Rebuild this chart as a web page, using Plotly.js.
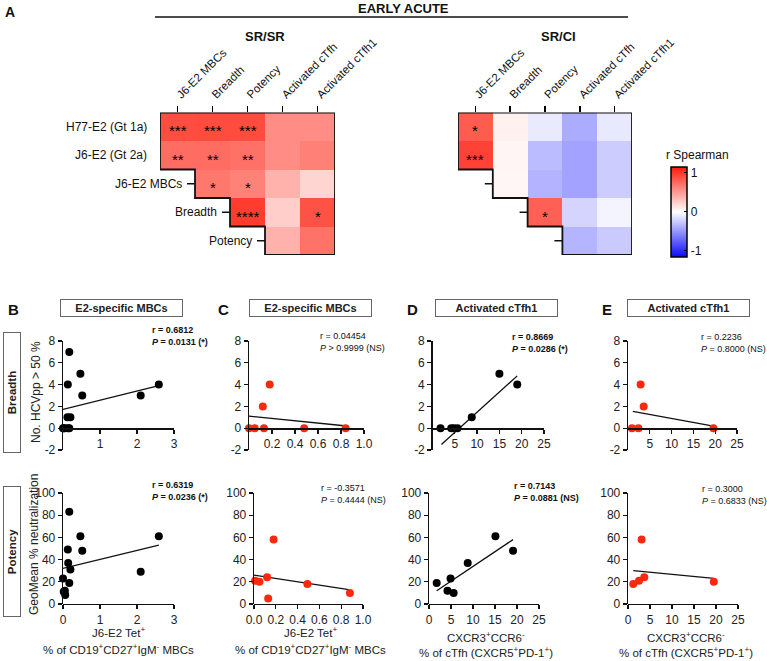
<!DOCTYPE html>
<html>
<head>
<meta charset="utf-8">
<script src="https://cdn.plot.ly/plotly-3.0.1.min.js"></script>
<style>
    body { margin: 0; background: #fff; }
    #graph { width: 767px; height: 661px; }
</style>
</head>
<body>
<div id="graph"></div>
<script>
const W = 767, H = 661;
const FONT = 'Arial, "Liberation Sans", sans-serif';
const RED = '#f8290e';

// ---- panel A: correlation heatmaps ----
const colLabels = ['J6-E2 MBCs', 'Breadth', 'Potency', 'Activated cTfh', 'Activated cTfh1'];
const rowLabels = ['H77-E2 (Gt 1a)', 'J6-E2 (Gt 2a)', 'J6-E2 MBCs', 'Breadth', 'Potency'];

const rSrSr = [
    [0.89, 0.90, 0.90, 0.57, 0.57],
    [0.74, 0.74, 0.72, 0.57, 0.64],
    [null, 0.68, 0.63, 0.39, 0.21],
    [null, null, 0.98, 0.25, 0.87],
    [null, null, null, 0.39, 0.71]
];
const starsSrSr = [
    ['***', '***', '***', '', ''],
    ['**', '**', '**', '', ''],
    ['', '*', '*', '', ''],
    ['', '', '****', '', '*'],
    ['', '', '', '', '']
];

const rSrCi = [
    [0.82, 0.07, -0.10, -0.39, -0.11],
    [0.95, 0.05, -0.32, -0.43, -0.24],
    [null, 0.045, -0.357, -0.43, -0.24],
    [null, null, 0.80, -0.20, -0.05],
    [null, null, null, -0.35, -0.25]
];
const starsSrCi = [
    ['*', '', '', '', ''],
    ['***', '', '', '', ''],
    ['', '', '', '', ''],
    ['', '', '*', '', ''],
    ['', '', '', '', '']
];

// ---- panels B-E: scatter data (x, y) and fitted lines ----
const srMbcBreadthX = [0.0, 0.02, 0.05, 0.14, 0.17, 0.17, 0.13, 0.47, 0.52, 0.12, 0.20, 2.10, 2.59];
const srMbcBreadthY = [0, 0, 0, 0, 0, 7, 4, 5, 3, 1, 1, 3, 4];
const srMbcBreadthFitX = [0, 2.59];
const srMbcBreadthFitY = [1.72, 3.9];

const srMbcPotencyX = [0.17, 0.47, 0.52, 2.59, 2.10, 0.13, 0.14, 0.20, 0.0, 0.17, 0.02, 0.05, 0.06];
const srMbcPotencyY = [83, 61, 48, 61, 29, 49, 37, 31, 23, 19, 11, 12, 8];
const srMbcPotencyFitX = [0, 2.59];
const srMbcPotencyFitY = [32, 53];

const ciMbcBreadthX = [0.0, 0.05, 0.13, 0.48, 0.84, 0.12, 0.18];
const ciMbcBreadthY = [0, 0, 0, 0, 0, 2, 4];
const ciMbcBreadthFitX = [0, 0.85];
const ciMbcBreadthFitY = [1.1, 0.2];

const ciMbcPotencyX = [0.01, 0.05, 0.12, 0.13, 0.18, 0.49, 0.88];
const ciMbcPotencyY = [21, 20, 24, 5, 58, 18, 10];
const ciMbcPotencyFitX = [0, 0.87];
const ciMbcPotencyFitY = [26, 13];

const srTfhBreadthX = [1.8, 4.2, 4.8, 5.6, 8.8, 15.0, 19.0];
const srTfhBreadthY = [0, 0, 0, 0, 1, 5, 4];
const srTfhBreadthFitX = [2.0, 19.0];
const srTfhBreadthFitY = [-1.5, 4.8];

const srTfhPotencyX = [1.75, 4.2, 4.9, 5.6, 8.8, 15.1, 19.1];
const srTfhPotencyY = [19, 12, 23, 10, 37, 61, 48];
const srTfhPotencyFitX = [1.75, 19.1];
const srTfhPotencyFitY = [12, 58];

const ciTfhBreadthX = [0.9, 2.4, 2.9, 3.6, 19.6];
const ciTfhBreadthY = [0, 0, 4, 2, 0];
const ciTfhBreadthFitX = [1.1, 19.6];
const ciTfhBreadthFitY = [1.55, 0.2];

const ciTfhPotencyX = [1.2, 2.5, 3.1, 3.7, 19.5];
const ciTfhPotencyY = [18, 21, 58, 24, 20];
const ciTfhPotencyFitX = [1.2, 19.5];
const ciTfhPotencyFitY = [30, 23];

// tick values
const breadthTicks = [-2, 0, 2, 4, 6, 8];
const potencyTicks = [0, 20, 40, 60, 80, 100];
const mbcTopTicks = [1, 2, 3];
const mbcBottomTicks = [0, 1, 2, 3];
const ciMbcTopTicks = [0.2, 0.4, 0.6, 0.8, 1.0];
const ciMbcBottomTicks = [0, 0.2, 0.4, 0.6, 0.8, 1.0];
const tfhTopTicks = [5, 10, 15, 20, 25];
const tfhBottomTicks = [0, 5, 10, 15, 20, 25];

const stats = [
    ['r = 0.6812', '<i>P</i> = 0.0131 (*)', true],
    ['r = 0.04454', '<i>P</i> > 0.9999 (NS)', false],
    ['r = 0.8669', '<i>P</i> = 0.0286 (*)', true],
    ['r = 0.2236', '<i>P</i> = 0.8000 (NS)', false],
    ['r = 0.6319', '<i>P</i> = 0.0236 (*)', true],
    ['r = -0.3571', '<i>P</i> = 0.4444 (NS)', false],
    ['r = 0.7143', '<i>P</i> = 0.0881 (NS)', true],
    ['r = 0.3000', '<i>P</i> = 0.6833 (NS)', false]
];

function px(x) { return x / W; }
function py(y) { return 1 - y / H; }

const traces = [];
const layout = {
    width: W,
    height: H,
    margin: {l: 0, r: 0, t: 0, b: 0},
    paper_bgcolor: '#fff',
    plot_bgcolor: 'rgba(0,0,0,0)',
    showlegend: false,
    font: {family: FONT, color: '#111', size: 12},
    annotations: [],
    shapes: [],
    coloraxis: {
        cmin: -1.15,
        cmax: 1.15,
        colorscale: [[0, '#0a0aff'], [0.5, '#ffffff'], [1, '#ff1a0a']],
        colorbar: {
            x: px(671), xanchor: 'left',
            y: py(211.5), yanchor: 'middle',
            len: 90, lenmode: 'pixels',
            thickness: 16, thicknessmode: 'pixels',
            outlinewidth: 1.5, outlinecolor: '#000',
            xpad: 0, ypad: 0,
            tickvals: [-1, 0, 1],
            ticktext: ['-1', '0', '1'],
            ticks: 'inside', ticklen: 3, tickcolor: '#000',
            tickfont: {size: 12, family: FONT, color: '#111'}
        }
    }
};

function addText(text, x, y, opts) {
    layout.annotations.push(Object.assign({
        text: text, x: x, y: y, xref: 'paper', yref: 'paper',
        xanchor: 'center', yanchor: 'middle',
        showarrow: false, font: {size: 12, family: FONT, color: '#111'}
    }, opts || {}));
}

function drawHeatmap(n, z, stars, domainX, withLabels) {
    const xa = n === 1 ? 'x' : 'x' + n;
    const ya = n === 1 ? 'y' : 'y' + n;
    const idx = [0, 1, 2, 3, 4];
    traces.push({
        type: 'heatmap', z: z, x: idx, y: idx,
        xaxis: xa, yaxis: ya, coloraxis: 'coloraxis',
        hoverongaps: false
    });
    const axName = n === 1 ? '' : String(n);
    layout['xaxis' + axName] = {
        domain: domainX, anchor: ya, side: 'top', range: [-0.5, 4.5],
        tickvals: idx, ticktext: colLabels, tickangle: -45,
        ticks: 'outside', ticklen: 6, tickwidth: 1.5, tickcolor: '#000',
        showline: false, showgrid: false, zeroline: false,
        tickfont: {size: 11.5, family: FONT, color: '#111'}
    };
    layout['yaxis' + axName] = {
        domain: [py(255), py(112.5)], anchor: xa, range: [4.5, -0.5],
        showticklabels: false, ticks: '', showline: false, showgrid: false, zeroline: false
    };

    // staircase outline and row ticks from the empty cells
    const firstCol = z.map(row => row.findIndex(v => v !== null));
    let path = 'M -0.5 -0.5 L 4.5 -0.5 L 4.5 4.5';
    for (let r = z.length - 1; r >= 0; r--) {
        path += ' L ' + (firstCol[r] - 0.5) + ' ' + (r + 0.5);
        path += ' L ' + (firstCol[r] - 0.5) + ' ' + (r - 0.5);
    }
    path += ' Z';
    layout.shapes.push({type: 'path', path: path, xref: xa, yref: ya, line: {color: '#111', width: 1.8}});

    firstCol.forEach((c, r) => {
        layout.shapes.push({
            type: 'line', xref: xa, yref: ya, xsizemode: 'pixel', xanchor: c - 0.5,
            x0: -8, x1: 0, y0: r, y1: r, line: {color: '#111', width: 1.5}
        });
        if (withLabels) {
            layout.annotations.push({
                text: rowLabels[r], x: c - 0.5, y: r, xref: xa, yref: ya,
                xanchor: 'right', yanchor: 'middle', xshift: -11, showarrow: false,
                font: {size: 12, family: FONT, color: '#111'}
            });
        }
    });

    stars.forEach((row, r) => row.forEach((s, c) => {
        if (s) {
            layout.annotations.push({
                text: s, x: c, y: r, xref: xa, yref: ya, showarrow: false, yshift: -4,
                xanchor: 'center', yanchor: 'middle',
                font: {size: 15, family: FONT, color: '#000'}
            });
        }
    }));
}

drawHeatmap(1, rSrSr, starsSrSr, [px(160), px(335)], true);
drawHeatmap(2, rSrCi, starsSrCi, [px(458), px(632)], false);

// scatter panels
const topY = [py(450), py(341)];
const bottomY = [py(604), py(493)];
const panels = [
    {x: srMbcBreadthX, y: srMbcBreadthY, fx: srMbcBreadthFitX, fy: srMbcBreadthFitY, dom: [63, 174], xr: [0, 3], xt: mbcTopTicks, xtt: null, color: '#000', top: true},
    {x: ciMbcBreadthX, y: ciMbcBreadthY, fx: ciMbcBreadthFitX, fy: ciMbcBreadthFitY, dom: [249, 364], xr: [0, 1], xt: ciMbcTopTicks, xtt: ['0.2', '0.4', '0.6', '0.8', '1.0'], color: RED, top: true},
    {x: srTfhBreadthX, y: srTfhBreadthY, fx: srTfhBreadthFitX, fy: srTfhBreadthFitY, dom: [432.5, 544], xr: [0, 25], xt: tfhTopTicks, xtt: null, color: '#000', top: true},
    {x: ciTfhBreadthX, y: ciTfhBreadthY, fx: ciTfhBreadthFitX, fy: ciTfhBreadthFitY, dom: [628, 737], xr: [0, 25], xt: tfhTopTicks, xtt: null, color: RED, top: true},
    {x: srMbcPotencyX, y: srMbcPotencyY, fx: srMbcPotencyFitX, fy: srMbcPotencyFitY, dom: [63, 174], xr: [0, 3], xt: mbcBottomTicks, xtt: null, color: '#000', top: false},
    {x: ciMbcPotencyX, y: ciMbcPotencyY, fx: ciMbcPotencyFitX, fy: ciMbcPotencyFitY, dom: [254, 363], xr: [0, 1], xt: ciMbcBottomTicks, xtt: ['0.0', '0.2', '0.4', '0.6', '0.8', '1.0'], color: RED, top: false},
    {x: srTfhPotencyX, y: srTfhPotencyY, fx: srTfhPotencyFitX, fy: srTfhPotencyFitY, dom: [429, 539], xr: [0, 25], xt: tfhBottomTicks, xtt: null, color: '#000', top: false},
    {x: ciTfhPotencyX, y: ciTfhPotencyY, fx: ciTfhPotencyFitX, fy: ciTfhPotencyFitY, dom: [628, 738], xr: [0, 25], xt: tfhBottomTicks, xtt: null, color: RED, top: false}
];

const axisStyle = {
    showline: true, linecolor: '#111', linewidth: 1.3,
    ticks: 'outside', ticklen: 4, tickwidth: 1.3, tickcolor: '#111',
    showgrid: false, zeroline: false,
    tickfont: {size: 12, family: FONT, color: '#222'}
};

panels.forEach((p, i) => {
    const n = i + 3;
    const yDom = p.top ? topY : bottomY;
    const yRange = p.top ? [-2, 8] : [0, 100];
    const yTicks = p.top ? breadthTicks : potencyTicks;
    const pos = yDom[0] + (0 - yRange[0]) / (yRange[1] - yRange[0]) * (yDom[1] - yDom[0]);
    layout['xaxis' + n] = Object.assign({}, axisStyle, {
        domain: [px(p.dom[0]), px(p.dom[1])], range: p.xr,
        anchor: 'free', position: pos,
        tickvals: p.xt, ticktext: p.xtt || p.xt.map(String)
    });
    layout['yaxis' + n] = Object.assign({}, axisStyle, {
        domain: yDom, range: yRange, anchor: 'x' + n,
        tickvals: yTicks, ticktext: yTicks.map(String)
    });
    traces.push({
        type: 'scatter', mode: 'lines', x: p.fx, y: p.fy,
        xaxis: 'x' + n, yaxis: 'y' + n,
        line: {color: '#111', width: 1.3}, cliponaxis: false
    });
    traces.push({
        type: 'scatter', mode: 'markers', x: p.x, y: p.y,
        xaxis: 'x' + n, yaxis: 'y' + n,
        marker: {color: p.color, size: 8}, cliponaxis: false
    });
});

// stat labels
const statPos = [[150, 329], [318, 335], [510, 336], [699, 336], [150, 484], [319, 487], [512, 485], [700, 488]];
stats.forEach((s, i) => {
    const b = s[2];
    const t = b ? '<b>' + s[0] + '</b><br><b>' + s[1] + '</b>' : s[0] + '<br>' + s[1];
    addText(t, px(statPos[i][0]), py(statPos[i][1] - 6), {
        xanchor: 'left', yanchor: 'top', align: 'left',
        font: {size: 9, family: FONT, color: '#111'}
    });
});

// headers
addText('<b>A</b>', px(3), py(12), {xanchor: 'left', font: {size: 14, family: FONT, color: '#111'}});
addText('<b>EARLY ACUTE</b>', px(403), py(8), {font: {size: 13, family: FONT, color: '#111'}});
layout.shapes.push({type: 'line', xref: 'paper', yref: 'paper', x0: px(155), x1: px(628), y0: py(17), y1: py(17), line: {color: '#111', width: 1.5}});
addText('<b>SR/SR</b>', px(265), py(37), {font: {size: 13, family: FONT, color: '#111'}});
addText('<b>SR/CI</b>', px(558), py(37), {font: {size: 13, family: FONT, color: '#111'}});
addText('r Spearman', px(697), py(155), {font: {size: 12, family: FONT, color: '#111'}});

// panel letters and boxed titles
const letters = [['B', 13], ['C', 223], ['D', 412], ['E', 607]];
letters.forEach(l => addText('<b>' + l[0] + '</b>', px(l[1]), py(309), {font: {size: 15, family: FONT, color: '#111'}}));
const boxTitles = [['E2-specific MBCs', 121], ['E2-specific MBCs', 310.5], ['Activated cTfh1', 496], ['Activated cTfh1', 688.5]];
boxTitles.forEach(b => addText('<b>' + b[0] + '</b>', px(b[1]), py(307.5), {
    width: 118, height: 13, bordercolor: '#666', borderwidth: 1, borderpad: 1.5,
    font: {size: 11, family: FONT, color: '#222'}
}));

// row boxes
addText('<b>Breadth</b>', px(12), py(393), {
    textangle: -90, width: 116, height: 13, bordercolor: '#666', borderwidth: 1, borderpad: 1.5,
    font: {size: 11.5, family: FONT, color: '#222'}
});
addText('<b>Potency</b>', px(12), py(552), {
    textangle: -90, width: 126, height: 13, bordercolor: '#666', borderwidth: 1, borderpad: 1.5,
    font: {size: 11.5, family: FONT, color: '#222'}
});

// axis titles
addText('No. HCVpp > 50 %', px(36), py(392), {textangle: -90, font: {size: 12, family: FONT, color: '#222'}});
addText('GeoMean % neutralization', px(34), py(545), {textangle: -90, font: {size: 12, family: FONT, color: '#222'}});

const mbcTitle1 = 'J6-E2 Tet<sup>+</sup>';
const mbcTitle2 = '% of CD19<sup>+</sup>CD27<sup>+</sup>IgM<sup>-</sup> MBCs';
const tfhTitle1 = 'CXCR3<sup>+</sup>CCR6<sup>-</sup>';
const tfhTitle2 = '% of cTfh (CXCR5<sup>+</sup>PD-1<sup>+</sup>)';
[[mbcTitle1, mbcTitle2, 118, 632, 649], [mbcTitle1, mbcTitle2, 310, 632, 649],
 [tfhTitle1, tfhTitle2, 486, 637, 652], [tfhTitle1, tfhTitle2, 686, 637, 652]].forEach(t => {
    addText(t[0], px(t[2]), py(t[3]), {font: {size: 11.5, family: FONT, color: '#222'}});
    addText(t[1], px(t[2]), py(t[4]), {font: {size: 11.5, family: FONT, color: '#222'}});
});

Plotly.newPlot('graph', traces, layout, {displayModeBar: false, staticPlot: true});
</script>
</body>
</html>
